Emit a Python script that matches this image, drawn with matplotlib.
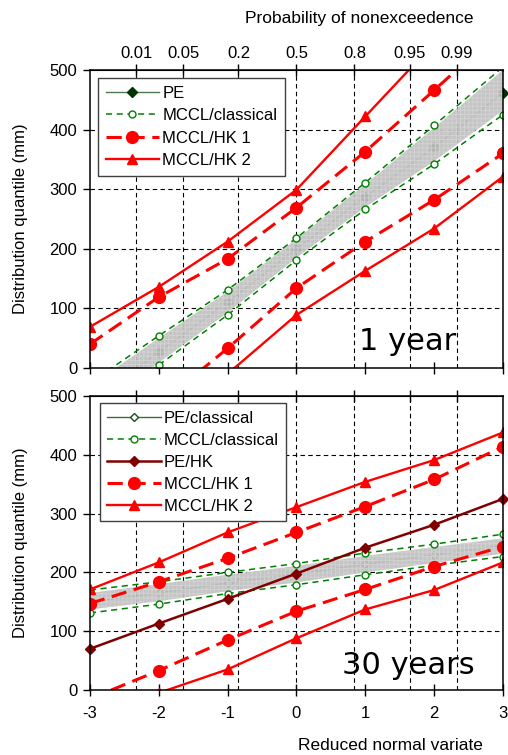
"""
quantile plots, 1 year and 30 years, classical vs HK
"""

import numpy as np
import matplotlib.pyplot as plt

# reduced normal variate
z = [-3, -2, -1, 0, 1, 2, 3]
prob_labels = ['0.01', '0.05', '0.2', '0.5', '0.8', '0.95', '0.99']
prob_z = [-2.326, -1.645, -0.842, 0.0, 0.842, 1.645, 2.326]

# 1 year
pe_1 = [-60, 27, 110, 200, 287, 370, 462]
mccl_cl_hi_1 = [-25, 54, 131, 218, 311, 407, 505]
mccl_cl_lo_1 = [-80, 5, 89, 181, 266, 342, 425]
band_hi_1 = [-30, 50, 128, 216, 308, 403, 500]
band_lo_1 = [-75, 9, 93, 185, 270, 347, 432]
hk1_hi_1 = [40, 119, 183, 269, 363, 466, 570]
hk1_lo_1 = [-150, -62, 33, 134, 212, 282, 360]
hk2_hi_1 = [69, 136, 212, 299, 422, 545, 670]
hk2_lo_1 = [-190, -100, -10, 89, 163, 234, 321]

# 30 years
pe_cl_30 = [150, 165, 182, 197, 214, 230, 246]
mccl_cl_hi_30 = [170, 184, 200, 215, 233, 248, 265]
mccl_cl_lo_30 = [131, 146, 164, 179, 196, 212, 227]
band_hi_30 = [165, 180, 196, 211, 228, 243, 258]
band_lo_30 = [137, 151, 168, 183, 200, 216, 232]
pe_hk_30 = [70, 113, 155, 198, 242, 281, 325]
hk1_hi_30 = [147, 184, 224, 268, 312, 358, 414]
hk1_lo_30 = [-15, 33, 85, 134, 171, 210, 244]
hk2_hi_30 = [171, 217, 268, 311, 354, 391, 438]
hk2_lo_30 = [-55, -5, 35, 88, 137, 170, 217]

plt.rcParams['font.family'] = ['Liberation Sans', 'DejaVu Sans']
plt.rcParams['axes.unicode_minus'] = False
plt.rcParams['hatch.linewidth'] = 0.6

RED = '#ff0000'
hk1_style = dict(color=RED, lw=2.2, ls=(0, (5, 2.5)), marker='o', ms=8.5, zorder=6)
hk2_style = dict(color=RED, lw=1.7, ls='-', marker='^', ms=6.5, zorder=6)
green_style = dict(color='#008000', lw=1.1, ls=(0, (4, 3)), marker='o', ms=5,
                   mfc='white', mec='#008000', mew=1.0, zorder=4)
band_style = dict(facecolor='#c0c0c0', edgecolor='#d4d4d4', hatch='++++', lw=0,
                  alpha=0.92, zorder=3)


def setup_axes(ax, top_labels, bottom_labels):
    ax.set_xlim(-3, 3)
    ax.set_ylim(0, 500)
    ax.set_xticks(z)
    ax.set_yticks([0, 100, 200, 300, 400, 500])
    ax.tick_params(axis='y', direction='out', length=5, width=1, pad=4, labelsize=12)
    ax.tick_params(axis='x', direction='inout', length=9, width=1, pad=7,
                   labelsize=12, labelbottom=bottom_labels)
    for v in prob_z:
        ax.axvline(v, color='black', lw=0.8, ls=(0, (4, 3)), zorder=0.5)
    for v in [100, 200, 300, 400]:
        ax.axhline(v, color='black', lw=0.8, ls=(0, (4, 3)), zorder=0.5)
    for s in ax.spines.values():
        s.set_linewidth(1.1)
        s.set_zorder(8)
    sec = ax.secondary_xaxis('top')
    sec.set_xticks(prob_z)
    sec.set_xticklabels(prob_labels if top_labels else [])
    sec.tick_params(direction='inout', length=9, width=1, pad=2, labelsize=12)


def add_legend(ax, anchor, spacing):
    leg = ax.legend(loc='upper left', bbox_to_anchor=anchor, fontsize=12,
                    handlelength=3.2, handletextpad=0.2, labelspacing=spacing,
                    borderpad=0.45, borderaxespad=0.0,
                    fancybox=False, edgecolor='#404040', framealpha=1)
    leg.get_frame().set_linewidth(1.0)
    leg.set_zorder(10)


fig = plt.figure(figsize=(5.08, 7.55), dpi=100)
ax1 = fig.add_axes([0.177, 0.5126, 0.813, 0.3947])
ax2 = fig.add_axes([0.177, 0.0861, 0.813, 0.3894])

# ---- 1 year ----
setup_axes(ax1, True, False)
ax1.plot(z, pe_1, color='#4d7a4d', lw=1.0, marker='D', ms=5, mfc='#003300',
         mec='#003300', zorder=2, label='PE')
ax1.plot(z[-1:], pe_1[-1:], ls='none', marker='D', ms=5, mfc='#003300',
         mec='#003300', zorder=2, clip_on=False)
ax1.fill_between(z, band_lo_1, band_hi_1, **band_style)
ax1.plot(z, mccl_cl_hi_1, label='MCCL/classical', **green_style)
ax1.plot(z, mccl_cl_lo_1, **green_style)
ax1.plot(z, hk1_hi_1, label='MCCL/HK 1', **hk1_style)
ax1.plot(z, hk1_lo_1, **hk1_style)
ax1.plot(z, hk2_hi_1, label='MCCL/HK 2', **hk2_style)
ax1.plot(z, hk2_lo_1, **hk2_style)
add_legend(ax1, (0.02, 0.973), 0.45)
ax1.text(0.77, 0.09, '1 year', transform=ax1.transAxes, fontsize=22,
         family='DejaVu Sans', ha='center', va='center', zorder=9)

# ---- 30 years ----
setup_axes(ax2, False, True)
ax2.plot(z, pe_cl_30, color='#3c6e3c', lw=1.0, marker='D', ms=4.5, mfc='white',
         mec='#1d4d1d', zorder=2, label='PE/classical')
ax2.fill_between(z, band_lo_30, band_hi_30, **band_style)
ax2.plot(z, mccl_cl_hi_30, label='MCCL/classical', **green_style)
ax2.plot(z, mccl_cl_lo_30, **green_style)
ax2.plot(z, pe_hk_30, color='#800000', lw=1.8, marker='D', ms=5, mfc='#800000',
         mec='#800000', zorder=5, clip_on=False, label='PE/HK')
ax2.plot(z, hk1_hi_30, label='MCCL/HK 1', **hk1_style)
ax2.plot(z, hk1_lo_30, **hk1_style)
ax2.plot(z, hk2_hi_30, label='MCCL/HK 2', **hk2_style)
ax2.plot(z, hk2_lo_30, **hk2_style)
add_legend(ax2, (0.024, 0.976), 0.42)
ax2.text(0.77, 0.085, '30 years', transform=ax2.transAxes, fontsize=22,
         family='DejaVu Sans', ha='center', va='center', zorder=9)

fig.text(0.04, 0.71, 'Distribution quantile (mm)', rotation=90, fontsize=12,
         ha='center', va='center')
fig.text(0.04, 0.281, 'Distribution quantile (mm)', rotation=90, fontsize=12,
         ha='center', va='center')
fig.text(0.707, 0.975, 'Probability of nonexceedence', fontsize=12.5, ha='center', va='center')
fig.text(0.768, 0.013, 'Reduced normal variate', fontsize=12.5, ha='center', va='center')

fig.savefig('out.png', dpi=100)
